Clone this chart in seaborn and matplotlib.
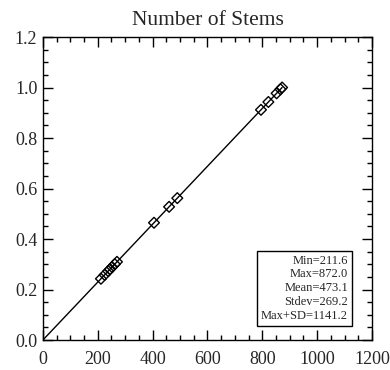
import numpy as np
import pandas as pd
import matplotlib
matplotlib.use('Agg')
import matplotlib.pyplot as plt
from matplotlib.ticker import MultipleLocator
import seaborn as sns

# numero de tallos observados
tallos = [211.6, 225.0, 238.0, 245.0, 252.0, 262.0, 270.0,
          405.0, 460.0, 490.0,
          795.0, 822.0, 852.0, 866.0, 872.0]
estad = ['Min=211.6', 'Max=872.0', 'Mean=473.1', 'Stdev=269.2', 'Max+SD=1141.2']

sns.set_style('ticks')
plt.rcParams['font.family'] = ['Liberation Serif', 'DejaVu Serif']

maximo = max(tallos)
df = pd.DataFrame({'x': tallos, 'y': np.array(tallos) / maximo})
linea = pd.DataFrame({'x': [0, maximo], 'y': [0, 1.0]})

fig = plt.figure(figsize=(3.9, 3.7), dpi=100)
ax = fig.add_axes([0.110, 0.081, 0.844, 0.819])
sns.lineplot(data=linea, x='x', y='y', color='black', linewidth=1, ax=ax)
sns.scatterplot(data=df, x='x', y='y', marker='D', s=30, facecolor='none',
                edgecolor='black', linewidth=1, ax=ax)

ax.set_xlim(0, 1200)
ax.set_ylim(0, 1.2)
ax.xaxis.set_major_locator(MultipleLocator(200))
ax.xaxis.set_minor_locator(MultipleLocator(50))
ax.yaxis.set_major_locator(MultipleLocator(0.2))
ax.yaxis.set_minor_locator(MultipleLocator(0.05))
ax.yaxis.set_major_formatter(matplotlib.ticker.FormatStrFormatter('%.1f'))
ax.tick_params(which='both', direction='in', top=True, right=True,
               labelsize=13, color='black', width=1)
ax.tick_params(which='major', length=7)
ax.tick_params(which='minor', length=3.5)
ax.tick_params(axis='x', which='major', pad=8)
ax.tick_params(axis='y', which='major', pad=4)
for s in ax.spines.values():
    s.set_linewidth(1)
    s.set_color('black')
ax.set_xlabel('')
ax.set_ylabel('')
ax.set_title('Number of Stems', fontsize=15.5, pad=9)

ax.text(0.927, 0.06, '\n'.join(estad), transform=ax.transAxes, ha='right', va='bottom',
        fontsize=9, linespacing=1.2,
        bbox=dict(boxstyle='square,pad=0.3', facecolor='white', edgecolor='black', linewidth=1))

plt.savefig('out.png', dpi=100)
plt.close()
